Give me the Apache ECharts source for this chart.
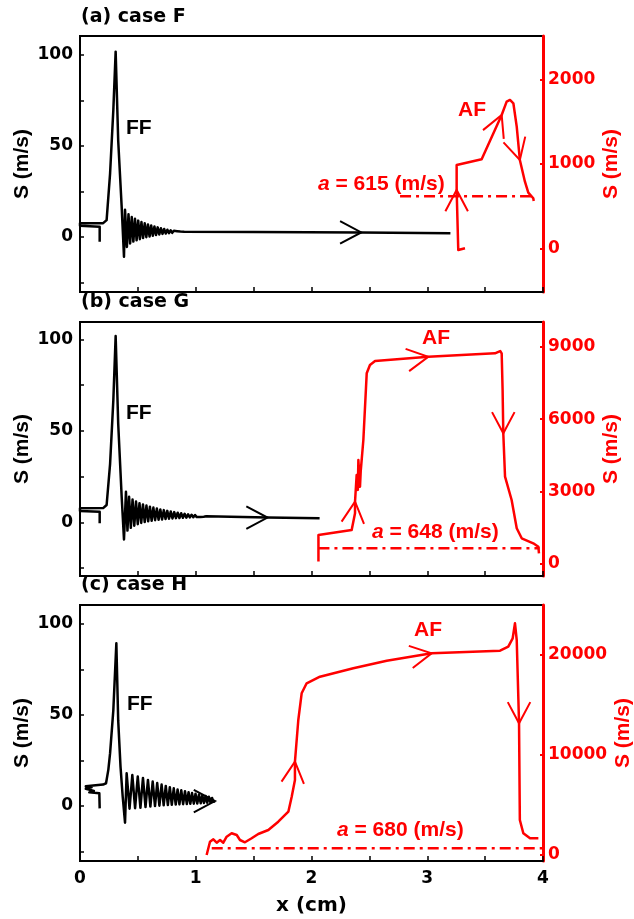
<!DOCTYPE html>
<html>
<head>
<meta charset="utf-8">
<script src="https://cdn.jsdelivr.net/npm/echarts@6/dist/echarts.min.js"></script>
<style>
  html, body { margin: 0; padding: 0; background: #fff; }
  #chart { width: 634px; height: 919px; }
</style>
</head>
<body>
<div id="chart"></div>
<script>
// ---- Flame-front (FF) speed, left axis, [x (cm), S (m/s)] ----
const ffCaseF = [
  [0.17,-2.6],[0.17,5.7],[0.0,6.2],[0.0,7.5],[0.20,7.6],[0.23,9.3],[0.26,35],[0.288,69.8],[0.308,101.8],
  [0.33,53],[0.36,16.6],[0.38,-10.8],
  [0.389,15],[0.405,-5.5],[0.419,12.5],[0.433,-3.5],[0.447,11],[0.461,-2.5],[0.475,10],[0.489,-1.8],
  [0.503,9],[0.517,-1.2],[0.531,8.2],[0.545,-0.6],[0.559,7.5],[0.573,-0.1],[0.587,6.9],[0.601,0.3],
  [0.615,6.3],[0.629,0.7],[0.643,5.8],[0.657,1.1],[0.671,5.3],[0.685,1.4],[0.699,4.8],[0.713,1.7],
  [0.727,4.4],[0.741,1.9],[0.755,4.0],[0.769,2.1],[0.783,3.7],[0.797,2.3],[0.811,3.4],[0.825,2.5],
  [0.839,3.2],[0.853,2.6],[0.867,3.0],[0.881,2.7],[0.90,2.85],[1.5,2.7],[2.43,2.5],[3.2,2.0]
];
const ffCaseG = [
  [0.17,-0.5],[0.17,5.8],[0.0,6.2],[0.0,7.7],[0.20,7.8],[0.23,9.5],[0.26,32],[0.288,66.8],[0.308,101.8],
  [0.33,54],[0.36,14],[0.38,-9.3],
  [0.397,16.7],[0.41,-4.5],[0.424,14],[0.439,-3],[0.454,12.5],[0.469,-1.8],[0.484,11.4],[0.499,-1],
  [0.514,10.5],[0.529,-0.3],[0.544,9.8],[0.559,0.2],[0.574,9.2],[0.589,0.6],[0.604,8.6],[0.619,0.9],
  [0.634,8.1],[0.649,1.2],[0.664,7.6],[0.679,1.4],[0.694,7.1],[0.709,1.6],[0.724,6.7],[0.739,1.8],
  [0.754,6.3],[0.769,2.0],[0.784,5.9],[0.799,2.1],[0.814,5.6],[0.829,2.3],[0.844,5.3],[0.859,2.4],
  [0.874,5.0],[0.889,2.5],[0.904,4.7],[0.919,2.6],[0.934,4.4],[0.949,2.7],[0.964,4.2],[0.979,2.8],
  [0.994,4.0],[1.009,2.9],[1.024,3.8],[1.039,3.0],[1.054,3.6],[1.069,3.1],[1.09,3.3],[1.3,3.1],
  [1.62,2.6],[2.07,2.2]
];
const ffCaseH = [
  [0.17,-1.3],[0.167,7],[0.08,7.5],[0.12,8.3],[0.05,9.5],[0.10,10.3],[0.05,10.8],[0.20,11.8],[0.225,12.5],
  [0.245,20],[0.26,29],[0.288,52.7],[0.314,89.4],[0.33,47],[0.35,21.6],[0.369,5.1],[0.389,-9.2],
  [0.403,18],[0.428,-1.5],[0.452,17],[0.476,-1.2],[0.499,16.2],[0.522,-1],[0.544,15.4],[0.566,-0.6],
  [0.587,14.3],[0.608,-0.3],[0.628,13.4],[0.648,0],[0.667,12.6],[0.686,0.2],[0.705,11.8],[0.723,0.4],
  [0.741,11],[0.759,0.5],[0.776,10.3],[0.793,0.7],[0.81,9.7],[0.827,0.8],[0.843,9.1],[0.859,0.9],
  [0.875,8.6],[0.891,1.0],[0.907,8.1],[0.923,1.1],[0.938,7.6],[0.953,1.2],[0.968,7.1],[0.983,1.3],
  [0.998,6.7],[1.013,1.4],[1.028,6.3],[1.043,1.5],[1.057,5.9],[1.071,1.7],[1.085,5.5],[1.099,1.8],
  [1.113,5.1],[1.127,2.0],[1.141,4.4],[1.153,2.3],[1.166,2.7]
];

// ---- Auto-ignition front (AF) speed, right axis, [x (cm), S (m/s)] ----
const afCaseF = [
  [3.326,0],[3.268,-20],[3.254,690],[3.254,986],[3.47,1053],[3.643,1577],[3.686,1735],[3.715,1755],
  [3.744,1716],[3.773,1439],[3.80,1045],[3.844,788],[3.873,658],[3.916,592],[3.92,560]
];
const afCaseG = [
  [2.06,100],[2.06,1200],[2.347,1408],[2.376,2100],[2.376,2579],[2.39,3685],[2.40,3064],[2.405,4306],
  [2.419,3200],[2.425,3821],[2.448,5134],[2.477,7895],[2.505,8239],[2.549,8404],[3.009,8582],
  [3.585,8723],[3.63,8818],[3.643,8723],[3.651,7204],[3.657,5411],[3.672,3614],[3.729,2650],
  [3.773,1478],[3.816,1064],[3.916,857],[3.96,716],[3.965,443]
];
const afCaseH = [
  [1.094,0],[1.123,1330],[1.152,1570],[1.181,1230],[1.21,1500],[1.238,1230],[1.267,1830],[1.31,2170],
  [1.354,2000],[1.382,1500],[1.425,1270],[1.483,1670],[1.54,2100],[1.627,2500],[1.713,3330],[1.80,4330],
  [1.829,5830],[1.857,7500],[1.857,9330],[1.886,13500],[1.915,16170],[1.958,17170],[2.073,17830],
  [2.361,18670],[2.65,19430],[3.038,20170],[3.629,20430],[3.70,20830],[3.738,21670],[3.758,23170],
  [3.773,21500],[3.793,13170],[3.80,3500],[3.83,2170],[3.888,1670],[3.96,1670]
];

// ---- Sound speed reference lines a (m/s): [x start, x end, value] ----
const soundF = [2.765, 3.91, 615];
const soundG = [2.06, 3.97, 648];
const soundH = [1.138, 4.0, 680];

// ---- Direction arrows: [x, S, heading in screen degrees] ----
const ffArrowsF = [[2.43, 2.5, 0]];
const ffArrowsG = [[1.62, 2.6, 0]];
const ffArrowsH = [[1.166, 2.7, 0]];
const afArrowsF = [[3.254, 690, -90], [3.643, 1577, -67], [3.80, 1045, 75]];
const afArrowsG = [[2.376, 2579, -84], [3.009, 8582, -9], [3.657, 5411, 90]];
const afArrowsH = [[1.857, 9330, -84], [3.038, 20170, -10], [3.793, 13170, 90]];

// ---- Axis ticks ----
const xTickLabels = [0, 1, 2, 3, 4];
const xTicks = [0, 0.5, 1, 1.5, 2, 2.5, 3, 3.5, 4];
const leftLabels = [0, 50, 100];
const leftTicks = [-25, 0, 25, 50, 75, 100];
const rightLabelsF = [0, 1000, 2000];
const rightLabelsG = [0, 3000, 6000, 9000];
const rightLabelsH = [0, 10000, 20000];

const panelTitles = ['(a) case F', '(b) case G', '(c) case H'];

const RED = '#ff0000';
const BLACK = '#000000';
const TICK_FONT = 'DejaVu Sans';
const LABEL_FONT = 'Liberation Sans';

const grids = [
  { left: 80, top: 36, width: 463, height: 256 },
  { left: 80, top: 322, width: 463, height: 254 },
  { left: 80, top: 605, width: 463, height: 256 }
];
const leftRanges = [[-30.2, 110.4], [-29.3, 109.5], [-30.2, 110.4]];
const rightRanges = [[-517, 2512], [-497, 10020], [-600, 25000]];
const rightLabelSets = [rightLabelsF, rightLabelsG, rightLabelsH];
const rightNameGaps = [58, 58, 70];

const plain = v => String(v);

const chart = echarts.init(document.getElementById('chart'), null, { renderer: 'canvas' });

const xAxes = grids.map((g, i) => ({
  type: 'value', gridIndex: i, min: 0, max: 4,
  axisLine: { show: true, onZero: false, lineStyle: { color: BLACK, width: 2 } },
  axisTick: { show: true, inside: true, length: 5, customValues: xTicks, lineStyle: { color: BLACK, width: 1.5 } },
  axisLabel: {
    show: i === 2, customValues: xTickLabels, margin: 9, formatter: plain,
    color: BLACK, fontFamily: TICK_FONT, fontWeight: 'bold', fontSize: 17
  },
  splitLine: { show: false },
  name: i === 2 ? 'x (cm)' : '',
  nameLocation: 'middle', nameGap: 35,
  nameTextStyle: { color: BLACK, fontFamily: TICK_FONT, fontWeight: 'bold', fontSize: 20 }
}));

const yAxes = [];
grids.forEach((g, i) => {
  yAxes.push({
    type: 'value', gridIndex: i, position: 'left',
    min: leftRanges[i][0], max: leftRanges[i][1],
    axisLine: { show: true, onZero: false, lineStyle: { color: BLACK, width: 2 } },
    axisTick: { show: true, inside: true, length: 4, customValues: leftTicks, lineStyle: { color: BLACK, width: 1.5 } },
    axisLabel: {
      customValues: leftLabels, margin: 7, formatter: plain,
      color: BLACK, fontFamily: TICK_FONT, fontWeight: 'bold', fontSize: 17
    },
    splitLine: { show: false },
    name: 'S (m/s)', nameLocation: 'middle', nameRotate: 90, nameGap: 47, nameMoveOverlap: false,
    nameTextStyle: { color: BLACK, fontFamily: LABEL_FONT, fontWeight: 'bold', fontSize: 21 }
  });
  yAxes.push({
    type: 'value', gridIndex: i, position: 'right',
    min: rightRanges[i][0], max: rightRanges[i][1],
    axisLine: { show: true, onZero: false, lineStyle: { color: RED, width: 3 } },
    axisTick: { show: true, inside: true, length: 3, customValues: rightLabelSets[i], lineStyle: { color: RED, width: 2 } },
    axisLabel: {
      customValues: rightLabelSets[i], margin: 5, formatter: plain,
      color: RED, fontFamily: TICK_FONT, fontWeight: 'bold', fontSize: 17
    },
    splitLine: { show: false },
    name: 'S (m/s)', nameLocation: 'middle', nameRotate: 90, nameGap: rightNameGaps[i], nameMoveOverlap: false,
    nameTextStyle: { color: RED, fontFamily: LABEL_FONT, fontWeight: 'bold', fontSize: 21 }
  });
});

function curve(data, gi, right, color) {
  return {
    type: 'line', xAxisIndex: gi, yAxisIndex: gi * 2 + (right ? 1 : 0),
    data: data, showSymbol: false, symbol: 'none', smooth: false,
    lineStyle: { color: color, width: 2.5, join: 'round' }, z: 3,
    animation: false
  };
}

function soundLine(spec, gi) {
  return {
    type: 'line', xAxisIndex: gi, yAxisIndex: gi * 2 + 1,
    data: [[spec[0], spec[2]], [spec[1], spec[2]]],
    showSymbol: false, symbol: 'none',
    lineStyle: { color: RED, width: 2.5, type: [11, 5, 3, 5] }, z: 2,
    animation: false
  };
}

function arrows(data, gi, right, color) {
  return {
    type: 'custom', xAxisIndex: gi, yAxisIndex: gi * 2 + (right ? 1 : 0),
    data: data, clip: false, z: 4, animation: false,
    encode: { x: 0, y: 1 },
    renderItem: function (params, api) {
      const p = api.coord([api.value(0), api.value(1)]);
      const heading = api.value(2) * Math.PI / 180;
      const L = 24, half = 28 * Math.PI / 180;
      const b1 = heading + Math.PI - half, b2 = heading + Math.PI + half;
      return {
        type: 'polyline',
        shape: { points: [
          [p[0] + L * Math.cos(b1), p[1] + L * Math.sin(b1)],
          [p[0], p[1]],
          [p[0] + L * Math.cos(b2), p[1] + L * Math.sin(b2)]
        ] },
        style: { stroke: color, lineWidth: 2, fill: null }
      };
    }
  };
}

const series = [
  curve(ffCaseF, 0, false, BLACK), curve(afCaseF, 0, true, RED), soundLine(soundF, 0),
  arrows(ffArrowsF, 0, false, BLACK), arrows(afArrowsF, 0, true, RED),
  curve(ffCaseG, 1, false, BLACK), curve(afCaseG, 1, true, RED), soundLine(soundG, 1),
  arrows(ffArrowsG, 1, false, BLACK), arrows(afArrowsG, 1, true, RED),
  curve(ffCaseH, 2, false, BLACK), curve(afCaseH, 2, true, RED), soundLine(soundH, 2),
  arrows(ffArrowsH, 2, false, BLACK), arrows(afArrowsH, 2, true, RED)
];

function txt(x, y, text, color) {
  return {
    type: 'text', x: x, y: y, z: 10,
    style: {
      text: text, fill: color, fontFamily: LABEL_FONT, fontWeight: 'bold', fontSize: 21,
      verticalAlign: 'middle', align: 'left'
    }
  };
}

function soundLabel(x, y, value) {
  return {
    type: 'text', x: x, y: y, z: 10,
    style: {
      text: '{i|a} = ' + value + ' (m/s)',
      fill: RED, fontFamily: LABEL_FONT, fontWeight: 'bold', fontSize: 21,
      verticalAlign: 'middle', align: 'left',
      rich: { i: { fontStyle: 'italic', fontWeight: 'bold', fontFamily: LABEL_FONT, fontSize: 21, fill: RED } }
    }
  };
}

const graphics = [
  txt(126, 128, 'FF', BLACK), txt(458, 110, 'AF', RED), soundLabel(318, 184, soundF[2]),
  txt(126, 413, 'FF', BLACK), txt(422, 338, 'AF', RED), soundLabel(372, 532, soundG[2]),
  txt(127, 704, 'FF', BLACK), txt(414, 630, 'AF', RED), soundLabel(337, 830, soundH[2])
];

const titleTops = [8, 293, 576];

chart.setOption({
  animation: false,
  backgroundColor: '#ffffff',
  title: panelTitles.map((t, i) => ({
    text: t, left: 81, top: titleTops[i], padding: 0,
    textStyle: { color: BLACK, fontFamily: TICK_FONT, fontWeight: 'bold', fontSize: 19 }
  })),
  grid: grids.map(g => Object.assign({
    show: true, borderColor: BLACK, borderWidth: 2, backgroundColor: 'transparent',
    containLabel: false, outerBoundsMode: 'none'
  }, g)),
  xAxis: xAxes,
  yAxis: yAxes,
  series: series,
  graphic: graphics
});
</script>
</body>
</html>
